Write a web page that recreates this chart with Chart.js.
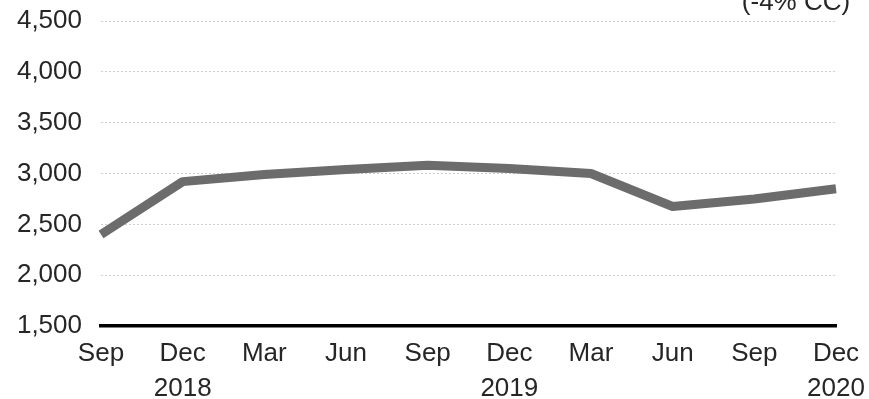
<!DOCTYPE html>
<html>
<head>
<meta charset="utf-8">
<script src="https://cdn.jsdelivr.net/npm/chart.js@4/dist/chart.umd.min.js"></script>
<style>
  html, body { margin: 0; padding: 0; background: #fff; }
  #wrap { width: 869px; height: 399px; position: relative; }
</style>
</head>
<body>
<div id="wrap"><canvas id="chart"></canvas></div>
<script>
// Quarter-end months and the year shown under each December
const months = ['Sep', 'Dec', 'Mar', 'Jun', 'Sep', 'Dec', 'Mar', 'Jun', 'Sep', 'Dec'];
const years  = ['', '2018', '', '', '', '2019', '', '', '', '2020'];
// Quarterly values
const values = [2400, 2920, 2990, 3040, 3080, 3050, 3000, 2675, 2750, 2850];
// Value axis range
const yMin = 1500, yMax = 4500, yStep = 500;
const note = '(-4% CC)';

const labels = months.map((m, i) => [m, years[i]]);
const FONT = "'Liberation Sans', Arial, sans-serif";

// Note in the top-right corner, on a white box that hides the top gridline
const notePlugin = {
  id: 'noteBox',
  afterDraw(chart) {
    const ctx = chart.ctx;
    ctx.save();
    ctx.fillStyle = '#ffffff';
    ctx.fillRect(710, 0, 159, 17);
    ctx.fillStyle = '#262626';
    ctx.font = '26px ' + FONT;
    ctx.textAlign = 'center';
    ctx.textBaseline = 'alphabetic';
    ctx.fillText(note, 796, 10);
    ctx.restore();
  }
};

new Chart(document.getElementById('chart'), {
  type: 'line',
  data: {
    labels: labels,
    datasets: [{
      data: values,
      borderColor: '#6b6c6b',
      borderWidth: 9,
      pointRadius: 0,
      tension: 0,
      fill: false,
      borderJoinStyle: 'round'
    }]
  },
  options: {
    responsive: true,
    maintainAspectRatio: false,
    animation: false,
    layout: { padding: { top: 21, right: 33, left: 0, bottom: 0 } },
    plugins: { legend: { display: false }, tooltip: { enabled: false } },
    scales: {
      x: {
        offset: false,
        grid: { display: false, drawTicks: false },
        border: { display: true, color: '#000000', width: 3.5 },
        ticks: {
          color: '#262626',
          font: { family: FONT, size: 26, lineHeight: 1.35 },
          padding: 10,
          maxRotation: 0,
          autoSkip: false
        },
        afterFit(s) {
          s.height = 73;
          s.paddingLeft = 0;
          s.paddingRight = 0;
        }
      },
      y: {
        min: yMin,
        max: yMax,
        grid: { color: '#cfcfcf', lineWidth: 1, drawTicks: false },
        border: { display: false, dash: [2, 2] },
        ticks: {
          stepSize: yStep,
          color: '#262626',
          font: { family: FONT, size: 26 },
          padding: 19,
          callback: v => v.toLocaleString('en-US')
        },
        afterFit(s) {
          s.width = 101;
          s.paddingTop = 0;
          s.paddingBottom = 0;
        }
      }
    }
  },
  plugins: [notePlugin]
});
</script>
</body>
</html>
